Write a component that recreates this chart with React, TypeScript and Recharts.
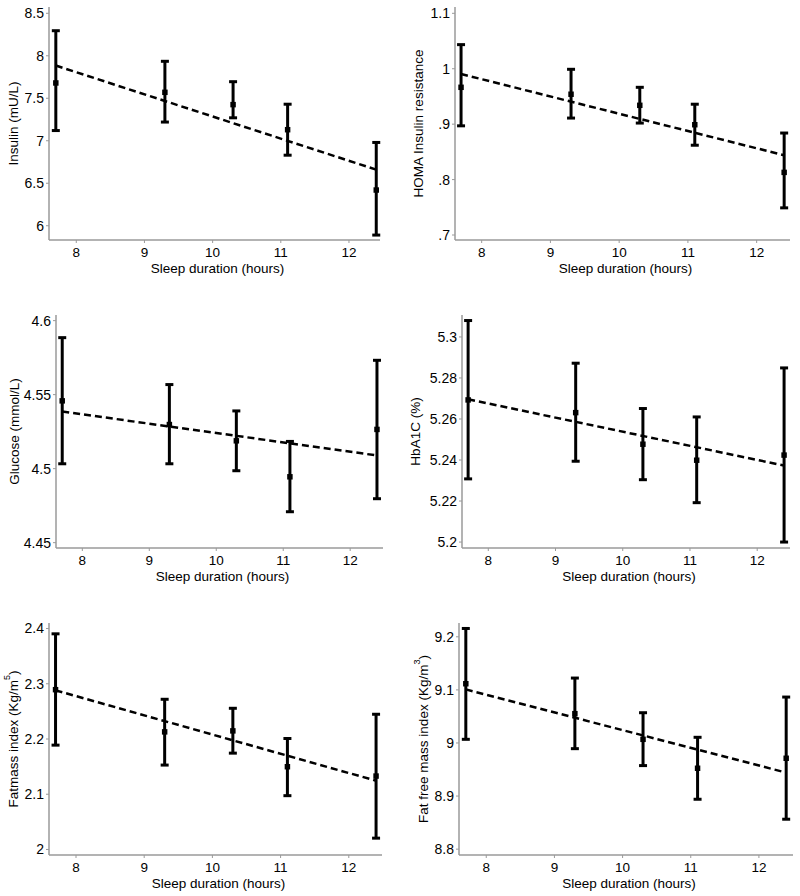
import React from 'react';
import { ComposedChart, XAxis, YAxis, ZAxis, Scatter, ErrorBar, Line } from 'recharts';

// Sleep duration categories (hours)
const sleepHours = [7.7, 9.3, 10.3, 11.1, 12.4];
const xTicks = [8, 9, 10, 11, 12];
const fitX = [7.7, 12.4];

// Insulin (mU/L)
const insulinMean = [7.68, 7.57, 7.425, 7.13, 6.42];
const insulinLow = [7.12, 7.22, 7.27, 6.83, 5.89];
const insulinHigh = [8.295, 7.935, 7.695, 7.43, 6.98];
const insulinFit = [7.885, 6.66];
const insulinTicks = [6, 6.5, 7, 7.5, 8, 8.5];

// HOMA insulin resistance
const homaMean = [0.9665, 0.954, 0.934, 0.899, 0.813];
const homaLow = [0.897, 0.911, 0.902, 0.862, 0.749];
const homaHigh = [1.0435, 0.999, 0.9665, 0.936, 0.884];
const homaFit = [0.9905, 0.844];
const homaTicks = [0.7, 0.8, 0.9, 1, 1.1];

// Glucose (mmol/L)
const glucoseMean = [4.5458, 4.5298, 4.5188, 4.4945, 4.5265];
const glucoseLow = [4.5033, 4.5033, 4.4986, 4.4709, 4.4797];
const glucoseHigh = [4.5885, 4.5568, 4.539, 4.5184, 4.5732];
const glucoseFit = [4.5386, 4.5089];
const glucoseTicks = [4.45, 4.5, 4.55, 4.6];

// HbA1C (%)
const hba1cMean = [5.2693, 5.2631, 5.2477, 5.2399, 5.2424];
const hba1cLow = [5.2308, 5.2394, 5.2304, 5.2192, 5.2];
const hba1cHigh = [5.308, 5.2872, 5.2651, 5.261, 5.2849];
const hba1cFit = [5.2696, 5.2373];
const hba1cTicks = [5.2, 5.22, 5.24, 5.26, 5.28, 5.3];

// Fat mass index
const fmiMean = [2.2893, 2.2129, 2.2147, 2.1498, 2.1329];
const fmiLow = [2.1889, 2.1528, 2.1744, 2.0974, 2.0205];
const fmiHigh = [2.3904, 2.2719, 2.2556, 2.2009, 2.2448];
const fmiFit = [2.2881, 2.1245];
const fmiTicks = [2, 2.1, 2.2, 2.3, 2.4];

// Fat free mass index
const ffmiMean = [9.1116, 9.0552, 9.0069, 8.9524, 8.9712];
const ffmiLow = [9.0069, 8.9893, 8.9574, 8.894, 8.8564];
const ffmiHigh = [9.2157, 9.1223, 9.057, 9.0107, 9.0865];
const ffmiFit = [9.1009, 8.9442];
const ffmiTicks = [8.8, 8.9, 9, 9.1, 9.2];

const FONT = '"Liberation Sans", Arial, sans-serif';
const AXIS_COLOR = '#9a9a9a';
const YW = 70;
const PAD_T = 5;
const PAD_R = 6;
const XH = 45;

type Panel = {
  rect: { L: number; T: number; R: number; B: number };
  yDomain: [number, number];
  xDomain: [number, number];
  yTicks: number[];
  mean: number[];
  low: number[];
  high: number[];
  fit: number[];
  label: { main: string; sup?: string; tail?: string };
  labelOff: number;
};

const panels: Panel[] = [
  {
    rect: { L: 49, T: 7, R: 380, B: 240 },
    yDomain: [5.832, 8.574],
    xDomain: [7.6, 12.455],
    yTicks: insulinTicks,
    mean: insulinMean, low: insulinLow, high: insulinHigh, fit: insulinFit,
    label: { main: 'Insulin (mU/L)' },
    labelOff: 36,
  },
  {
    rect: { L: 455, T: 7, R: 790, B: 240 },
    yDomain: [0.691, 1.1114],
    xDomain: [7.612, 12.485],
    yTicks: homaTicks,
    mean: homaMean, low: homaLow, high: homaHigh, fit: homaFit,
    label: { main: 'HOMA Insulin resistance' },
    labelOff: 37,
  },
  {
    rect: { L: 56, T: 315, R: 383, B: 548 },
    yDomain: [4.4464, 4.6038],
    xDomain: [7.607, 12.49],
    yTicks: glucoseTicks,
    mean: glucoseMean, low: glucoseLow, high: glucoseHigh, fit: glucoseFit,
    label: { main: 'Glucose (mmol/L)' },
    labelOff: 42,
  },
  {
    rect: { L: 462, T: 315, R: 790, B: 548 },
    yDomain: [5.1971, 5.3107],
    xDomain: [7.609, 12.488],
    yTicks: hba1cTicks,
    mean: hba1cMean, low: hba1cLow, high: hba1cHigh, fit: hba1cFit,
    label: { main: 'HbA1C (%)' },
    labelOff: 47,
  },
  {
    rect: { L: 49, T: 623, R: 382, B: 855 },
    yDomain: [1.99, 2.41],
    xDomain: [7.604, 12.487],
    yTicks: fmiTicks,
    mean: fmiMean, low: fmiLow, high: fmiHigh, fit: fmiFit,
    label: { main: 'Fatmass index (Kg/m', sup: '5', tail: ')' },
    labelOff: 36,
  },
  {
    rect: { L: 459, T: 623, R: 793, B: 855 },
    yDomain: [8.789, 9.226],
    xDomain: [7.6, 12.5],
    yTicks: ffmiTicks,
    mean: ffmiMean, low: ffmiLow, high: ffmiHigh, fit: ffmiFit,
    label: { main: 'Fat free mass index (Kg/m', sup: '3', tail: ')' },
    labelOff: 36,
  },
];

const fmtTick = (v: number) => {
  const s = String(v);
  return s.startsWith('0.') ? s.slice(1) : s;
};

function ChartPanel({ p }: { p: Panel }) {
  const { L, T, R, B } = p.rect;
  const width = R - L + YW + PAD_R;
  const height = B - T + PAD_T + XH;
  const points = sleepHours.map((x, i) => ({
    x,
    y: p.mean[i],
    err: [p.mean[i] - p.low[i], p.high[i] - p.mean[i]],
  }));
  const fitData = fitX.map((x, i) => ({ x, y: p.fit[i] }));

  const xLabel = (props: any) => {
    const vb = props.viewBox || {};
    const cx = vb.x + vb.width / 2 + 3;
    const y = vb.y + 33;
    return (
      <text x={cx} y={y} textAnchor="middle" fontSize={13.5} fontFamily={FONT} fill="#000">
        Sleep duration (hours)
      </text>
    );
  };
  const yLabel = (props: any) => {
    const vb = props.viewBox || {};
    const cx = vb.x + vb.width - p.labelOff;
    const cy = vb.y + vb.height / 2;
    return (
      <text
        transform={`translate(${cx},${cy}) rotate(-90)`}
        textAnchor="middle"
        dominantBaseline="central"
        fontSize={13.5}
        fontFamily={FONT}
        fill="#000"
      >
        {p.label.main}
        {p.label.sup ? (
          <tspan fontSize={9} dy={-6}>{p.label.sup}</tspan>
        ) : null}
        {p.label.tail ? <tspan dy={6}>{p.label.tail}</tspan> : null}
      </text>
    );
  };

  return (
    <div style={{ position: 'absolute', left: L - YW, top: T - PAD_T }}>
      <ComposedChart
        width={width}
        height={height}
        margin={{ top: PAD_T, right: PAD_R, left: 0, bottom: 0 }}
      >
        <XAxis
          type="number"
          dataKey="x"
          domain={p.xDomain}
          allowDataOverflow
          ticks={xTicks}
          height={XH}
          axisLine={{ stroke: AXIS_COLOR, strokeWidth: 1.5 }}
          tickLine={{ stroke: AXIS_COLOR }}
          tickSize={3}
          tickMargin={4}
          tick={{ fill: '#000', fontSize: 13.5, fontFamily: FONT }}
          label={{ content: xLabel }}
        />
        <YAxis
          type="number"
          dataKey="y"
          domain={p.yDomain}
          allowDataOverflow
          ticks={p.yTicks}
          tickFormatter={fmtTick}
          width={YW}
          axisLine={{ stroke: AXIS_COLOR, strokeWidth: 1.5 }}
          tickLine={{ stroke: AXIS_COLOR }}
          tickSize={3}
          tickMargin={2}
          tick={{ fill: '#000', fontSize: 14, fontFamily: FONT }}
          label={{ content: yLabel }}
        />
        <ZAxis range={[30, 30]} />
        <Line
          data={fitData}
          dataKey="y"
          type="linear"
          stroke="#000"
          strokeWidth={2.5}
          strokeDasharray="7 4"
          dot={false}
          activeDot={false}
          isAnimationActive={false}
        />
        <Scatter data={points} dataKey="y" fill="#000" shape="square" isAnimationActive={false}>
          <ErrorBar dataKey="err" direction="y" width={4} strokeWidth={3} stroke="#000" isAnimationActive={false} />
        </Scatter>
      </ComposedChart>
    </div>
  );
}

export default function App() {
  return (
    <div style={{ position: 'absolute', left: 0, top: 0, width: 800, height: 896, background: '#fff' }}>
      {panels.map((p, i) => (
        <ChartPanel key={i} p={p} />
      ))}
    </div>
  );
}
